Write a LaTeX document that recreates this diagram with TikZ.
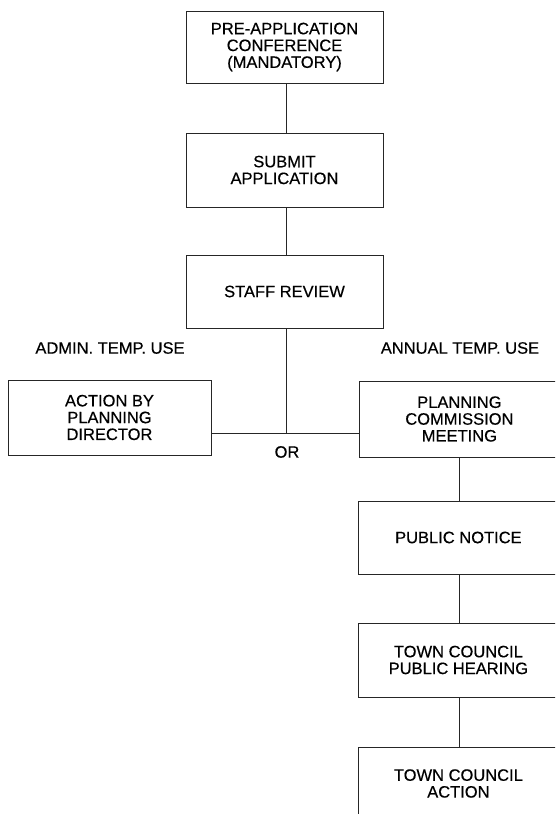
\documentclass[tikz,border=0pt]{standalone}
\usepackage{fontspec}
\setmainfont{Liberation Sans}[FakeBold=0.4]
\begin{document}
\begin{tikzpicture}[x=1pt,y=1pt,
  box/.style={draw=black!85, line width=0.8pt, align=center, inner sep=0pt,
    minimum width=197pt, minimum height=73pt, font=\fontsize{16.5}{16.8}\selectfont},
  rbox/.style={box, minimum width=200pt},
  lbl/.style={font=\fontsize{16.5}{16.8}\selectfont, inner sep=0pt},
  conn/.style={draw=black!85, line width=0.8pt}]
\useasboundingbox (0,0) rectangle (555,814);
\clip (0,0) rectangle (555,814);
\node[box, minimum height=72pt] (pre) at (284.5,767) {PRE-APPLICATION\\CONFERENCE\\(MANDATORY)};
\node[box, minimum height=74pt] (submit) at (284.5,644) {SUBMIT\\APPLICATION};
\node[box] (staff) at (284.5,522.5) {STAFF REVIEW};
\node[box, minimum width=203pt, minimum height=75pt] (apd) at (109.5,396.5) {ACTION BY\\PLANNING\\DIRECTOR};
\node[rbox, minimum height=76pt, anchor=west] (pcm) at (359,395) {PLANNING\\COMMISSION\\MEETING};
\node[rbox, anchor=west] (pn) at (358,276.5) {PUBLIC NOTICE};
\node[rbox, minimum height=74pt, anchor=west] (tcph) at (358,154) {TOWN COUNCIL\\PUBLIC HEARING};
\node[rbox, anchor=west, minimum height=73pt] (tca) at (358,30.5) {TOWN COUNCIL\\ACTION};
\node[lbl] (admin) at (110,466) {ADMIN. TEMP. USE};
\node[lbl] (annual) at (460,466) {ANNUAL TEMP. USE};
\node[lbl] (or) at (287,362) {OR};
\coordinate (j) at (286,381);
\draw[conn] (pre.south -| j) -- (submit.north -| j);
\draw[conn] (submit.south -| j) -- (staff.north -| j);
\draw[conn] (staff.south -| j) -- (j);
\draw[conn] (apd.east |- j) -- (pcm.west |- j);
\coordinate (rc) at (459,0);
\draw[conn] (pcm.south -| rc) -- (pn.north -| rc);
\draw[conn] (pn.south -| rc) -- (tcph.north -| rc);
\draw[conn] (tcph.south -| rc) -- (tca.north -| rc);
\end{tikzpicture}
\end{document}
